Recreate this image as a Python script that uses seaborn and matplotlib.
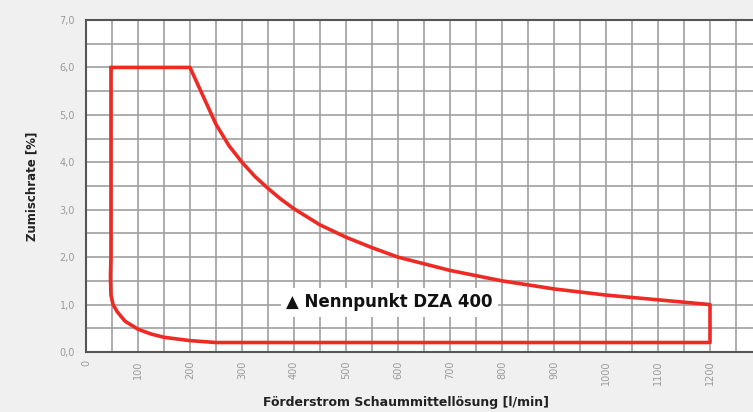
import numpy as np
import pandas as pd
import seaborn as sns
from matplotlib import pyplot as plt
from matplotlib.ticker import MultipleLocator, FuncFormatter

# outline of the operating range (Förderstrom l/min, Zumischrate %)
flow = [48, 200, 250, 275, 300, 325, 350, 375, 400, 450, 500, 550, 600, 700, 800, 900, 1000, 1100, 1200,
        1200, 250, 200, 150, 125, 100, 75, 60, 52, 48, 47, 48, 48]
rate = [6.0, 6.0, 4.8, 4.35, 4.0, 3.7, 3.45, 3.22, 3.02, 2.68, 2.42, 2.2, 2.0, 1.72, 1.5, 1.33, 1.2, 1.1, 1.0,
        0.2, 0.2, 0.24, 0.31, 0.38, 0.48, 0.65, 0.85, 1.0, 1.2, 1.6, 2.0, 6.0]
x_ticks = [0, 100, 200, 300, 400, 500, 600, 700, 800, 900, 1000, 1100, 1200]
y_ticks = [0, 1, 2, 3, 4, 5, 6, 7]
label_text = '▲ Nennpunkt DZA 400'
label_pos = (385, 1.05)

df = pd.DataFrame({'flow': flow, 'rate': rate})

sns.set_style('white')
plt.rcParams['font.family'] = ['DejaVu Sans']

fig = plt.figure(figsize=(7.53, 4.12), dpi=100, facecolor='#f0f0f0')
ax = fig.add_axes([86 / 753, 60 / 412, 676 / 753, 332 / 412])
ax.set_facecolor('white')

sns.lineplot(data=df, x='flow', y='rate', sort=False, estimator=None, color='#ee2a24',
             linewidth=2.6, ax=ax, zorder=3)

ax.set_xlim(0, 1300)
ax.set_ylim(0, 7)
ax.set_xticks(x_ticks)
ax.set_yticks(y_ticks)
ax.xaxis.set_minor_locator(MultipleLocator(50))
ax.yaxis.set_minor_locator(MultipleLocator(0.5))
ax.grid(which='both', color='#a0a0a0', linewidth=1.2, zorder=0)
ax.set_axisbelow(True)
ax.yaxis.set_major_formatter(FuncFormatter(lambda v, p: f'{v:.1f}'.replace('.', ',')))
ax.tick_params(axis='both', which='both', length=0, colors='#9a9a9a', labelsize=7)
ax.tick_params(axis='x', pad=6)
ax.tick_params(axis='y', pad=8)
for lab in ax.get_xticklabels():
    lab.set_rotation(90)
for s in ['left', 'bottom', 'top']:
    ax.spines[s].set_color('#555555')
    ax.spines[s].set_linewidth(1.5)
ax.spines['right'].set_visible(False)

ax.text(label_pos[0], label_pos[1], label_text, fontsize=12, fontweight='bold', va='center',
        ha='left', color='#111111', zorder=4,
        bbox=dict(facecolor='white', edgecolor='none', pad=4))

ax.set_xlabel('Förderstrom Schaummittellösung [l/min]', fontsize=9, fontweight='bold', color='#222222')
ax.set_ylabel('Zumischrate [%]', fontsize=8.5, fontweight='bold', color='#222222')
ax.xaxis.set_label_coords((406 - 86) / 676, -44 / 332)
ax.yaxis.set_label_coords(-48 / 676, 0.5)

fig.savefig('out.png', dpi=100, facecolor=fig.get_facecolor())
